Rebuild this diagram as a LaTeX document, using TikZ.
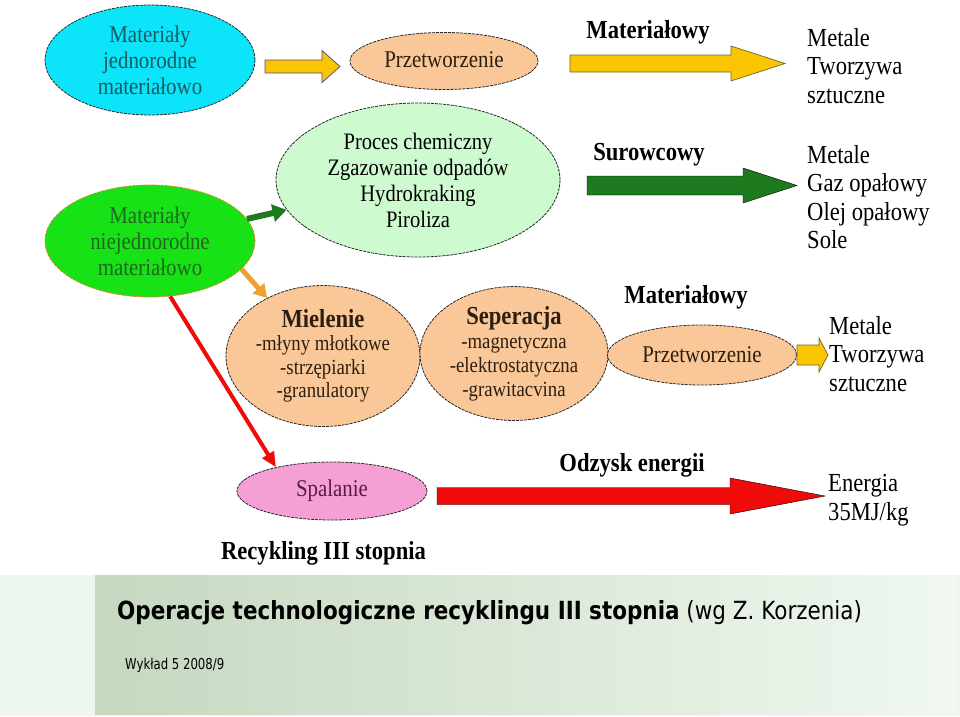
\documentclass[tikz,border=0pt]{standalone}
\usepackage{fontspec}
\setmainfont{Liberation Serif}[FakeStretch=0.87]
\newfontfamily\tahoma[FakeStretch=0.86]{DejaVu Sans}
\newfontfamily\tahomanarrow[FakeStretch=0.78]{DejaVu Sans}
\usetikzlibrary{shapes.geometric,arrows.meta}
\definecolor{cyanfill}{RGB}{12,228,250}
\definecolor{tealtxt}{RGB}{20,90,95}
\definecolor{peach}{RGB}{250,200,152}
\definecolor{lgreen}{RGB}{206,250,208}
\definecolor{bgreen}{RGB}{22,226,22}
\definecolor{gtxt}{RGB}{30,105,30}
\definecolor{gborder}{RGB}{200,140,40}
\definecolor{pinkfill}{RGB}{245,160,212}
\definecolor{pinktxt}{RGB}{90,25,75}
\definecolor{browntxt}{RGB}{45,30,15}
\definecolor{darkline}{RGB}{40,40,40}
\definecolor{gold}{RGB}{250,198,0}
\definecolor{purpline}{RGB}{90,70,160}
\definecolor{oliveline}{RGB}{120,100,40}
\definecolor{dkgreen}{RGB}{30,122,30}
\definecolor{orangearr}{RGB}{240,160,48}
\definecolor{redarr}{RGB}{240,10,10}
\definecolor{bandlight}{RGB}{237,247,237}
\definecolor{bandleft}{RGB}{198,216,192}
\definecolor{bandright}{RGB}{240,248,240}
\newcommand\blockarr[7]{%
  \draw[#1] (#2,{#5-#6}) -- (#3,{#5-#6}) -- (#3,{#5-#7}) -- (#4,#5) -- (#3,{#5+#7}) -- (#3,{#5+#6}) -- (#2,{#5+#6}) -- cycle;}
\tikzset{
  ellbase/.style={ellipse, inner sep=0pt, line width=0.8pt, dash pattern=on 3pt off 1pt, align=center},
  lbl/.style={font=\bfseries\fontsize{26}{30}\selectfont, inner sep=0pt},
  rtxt/.style={anchor=west, align=left, inner sep=0pt, font=\fontsize{26}{28.5}\selectfont},
}
\begin{document}
\begin{tikzpicture}[x=1pt,y=-1pt]
\useasboundingbox (0,0) rectangle (960,716);
\fill[white] (0,0) rectangle (960,716);
% bottom band
\fill[bandlight] (0,575) rectangle (960,716);
\shade[left color=bandleft, right color=bandright] (95,575) rectangle (957,714);
\node[anchor=base west, inner sep=0pt, font=\tahoma\fontsize{25}{28}\selectfont] (title) at (117,619)
  {\textbf{Operacje technologiczne recyklingu III stopnia} (wg Z. Korzenia)};
\node[anchor=base west, inner sep=0pt, font=\tahomanarrow\fontsize{15}{17}\selectfont] (foot) at (125,669) {Wykład 5 2008/9};

% ellipses
\node[ellbase, fill=cyanfill, draw=darkline, text=tealtxt, minimum width=210, minimum height=110,
  font=\fontsize{24}{26}\selectfont] (mjed) at (150,60) {Materiały\\jednorodne\\materiałowo};
\node[ellbase, fill=peach, draw=darkline, text=browntxt, minimum width=188, minimum height=57,
  font=\fontsize{24}{26}\selectfont] (przet1) at (444,61) {\raisebox{3pt}{Przetworzenie}};
\node[ellbase, fill=lgreen, draw=darkline, text=black, minimum width=284, minimum height=154,
  font=\fontsize{23.6}{26}\selectfont] (proc) at (418,180) {Proces chemiczny\\Zgazowanie odpadów\\Hydrokraking\\Piroliza};
\node[ellbase, fill=bgreen, draw=gborder, text=gtxt, minimum width=210, minimum height=112,
  font=\fontsize{24}{26}\selectfont] (mniej) at (150,241) {Materiały\\niejednorodne\\materiałowo};
\node[ellbase, fill=peach, draw=darkline, text=browntxt, minimum width=194, minimum height=141,
  font=\fontsize{21.6}{23.5}\selectfont] (miel) at (323,356)
  {{\bfseries\fontsize{26}{26}\selectfont Mielenie}\\-młyny młotkowe\\-strzępiarki\\-granulatory};
\node[ellbase, fill=peach, draw=darkline, text=browntxt, minimum width=188, minimum height=133,
  font=\fontsize{21.6}{24}\selectfont] (sep) at (514,353.5)
  {{\bfseries\fontsize{26}{26}\selectfont Seperacja}\\-magnetyczna\\-elektrostatyczna\\-grawitacvina};
\node[ellbase, fill=peach, draw=darkline, text=browntxt, minimum width=189, minimum height=60,
  font=\fontsize{24}{26}\selectfont] (przet2) at (702,355) {Przetworzenie};
\node[ellbase, fill=pinkfill, draw=darkline, text=pinktxt, minimum width=190, minimum height=58,
  font=\fontsize{24}{26}\selectfont] (spal) at (332,491) {\raisebox{5pt}{Spalanie}};

% thin arrows
\draw[dkgreen, line width=6pt, -{Triangle[length=14pt,width=17pt]}] (mniej) -- (proc);
\draw[orangearr, line width=5pt, -{Triangle[length=13pt,width=15pt]}] (mniej.-17) -- (miel.134);
\draw[redarr, line width=4pt, -{Triangle[length=15pt,width=13pt]}] (mniej.-70) -- (spal.157);

% block arrows
\blockarr{fill=gold, draw=purpline, line width=0.8pt}{265}{322}{340}{66.5}{6.5}{16}
\blockarr{fill=gold, draw=oliveline, line width=0.7pt}{570}{731}{785}{63.5}{8.5}{17.5}
\blockarr{fill=dkgreen}{587}{743}{797}{185.5}{9.5}{17.5}
\blockarr{fill=gold, draw=oliveline, line width=0.7pt}{797}{819}{828}{355}{10}{17}
\blockarr{fill=redarr}{437}{730}{825}{496}{8.5}{18}

% labels
\node[lbl] (l1) at (648,32) {Materiałowy};
\node[lbl] (l2) at (649,155) {Surowcowy};
\node[lbl] (l3) at (686,297) {Materiałowy};
\node[lbl] (l4) at (632,465) {Odzysk energii};
\node[lbl] (l5) at (323.5,553) {Recykling III stopnia};

% right texts
\node[rtxt] (r1) at (807,66) {Metale\\Tworzywa\\sztuczne};
\node[rtxt] (r2) at (807,197) {Metale\\Gaz opałowy\\Olej opałowy\\Sole};
\node[rtxt] (r3) at (829,354) {Metale\\Tworzywa\\sztuczne};
\node[rtxt] (r4) at (828,500) {Energia\\35MJ/kg};
\end{tikzpicture}
\end{document}
